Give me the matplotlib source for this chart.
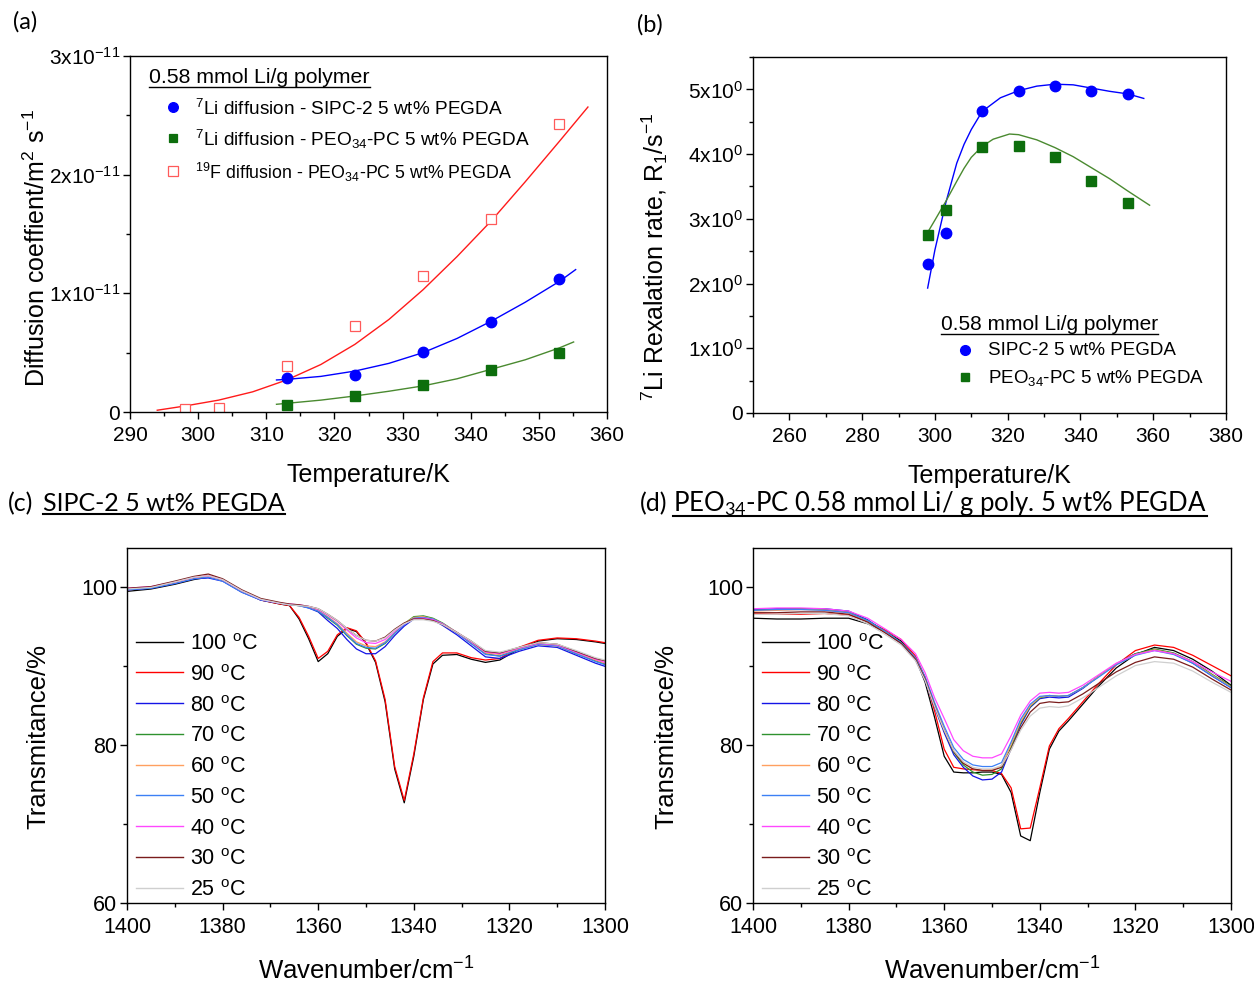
import numpy as np
import matplotlib
matplotlib.use('Agg')
import matplotlib.pyplot as plt
from matplotlib.lines import Line2D
from matplotlib.ticker import MultipleLocator, FixedLocator

W, H = 1254, 983

# ---------------- Panel (a): diffusion coefficients (units of 1e-11 m^2/s) ----------------
T_Li = [313, 323, 333, 343, 353]
D_Li_SIPC = [0.289, 0.312, 0.506, 0.758, 1.118]
D_Li_PEO = [0.059, 0.137, 0.228, 0.354, 0.495]
T_F = [298, 303, 313, 323, 333, 343, 353]
D_F_PEO = [0.025, 0.030, 0.385, 0.727, 1.149, 1.626, 2.430]

# fit curves
Tfit_F = [294, 298, 303, 308, 313, 318, 323, 328, 333, 338, 343, 348, 353, 357.2]
Dfit_F = [0.015, 0.05, 0.10, 0.17, 0.27, 0.40, 0.57, 0.78, 1.03, 1.31, 1.61, 1.94, 2.28, 2.57]
Tfit_SIPC = [311.5, 313, 318, 323, 328, 333, 338, 343, 348, 353, 355.4]
Dfit_SIPC = [0.27, 0.275, 0.30, 0.345, 0.41, 0.50, 0.62, 0.765, 0.925, 1.10, 1.20]
Tfit_PEO = [311.5, 318, 323, 328, 333, 338, 343, 348, 353, 355.1]
Dfit_PEO = [0.065, 0.10, 0.135, 0.175, 0.22, 0.28, 0.36, 0.44, 0.54, 0.59]

# ---------------- Panel (b): 7Li relaxation rate R1 ----------------
T_R = [298, 303, 313, 323, 333, 343, 353]
R1_SIPC = [2.30, 2.78, 4.66, 4.97, 5.05, 4.97, 4.93]
R1_PEO = [2.75, 3.14, 4.11, 4.12, 3.95, 3.59, 3.24]
Tfit_R_SIPC = [298, 300, 303, 306, 308, 310, 313, 318, 323, 328, 333, 338, 343, 348, 353, 357.4]
Rfit_SIPC = [1.93, 2.52, 3.25, 3.86, 4.15, 4.38, 4.66, 4.87, 4.98, 5.05, 5.08, 5.07, 5.02, 4.97, 4.93, 4.86]
Tfit_R_PEO = [298, 300, 303, 306, 308, 310, 313, 316, 320.5, 323, 328, 333, 338, 343, 348, 353, 359]
Rfit_PEO = [2.79, 2.98, 3.27, 3.58, 3.78, 3.95, 4.12, 4.23, 4.31, 4.30, 4.22, 4.10, 3.96, 3.79, 3.62, 3.43, 3.21]

# ---------------- Panel (c): IR, SIPC-2 5 wt% PEGDA ----------------
wn_c = [1400, 1395, 1390, 1386, 1383, 1380, 1376, 1372, 1368, 1366, 1364, 1362,
        1360, 1358, 1356, 1354, 1352, 1350, 1348, 1346, 1344, 1342, 1340, 1338,
        1336, 1334, 1331, 1328, 1325, 1322, 1318, 1314, 1310, 1306, 1302, 1300]
c_100 = [99.5, 99.8, 100.4, 101.0, 101.3, 100.9, 99.6, 98.4, 97.9, 97.7, 96.0, 93.5,
         90.6, 91.6, 93.8, 94.8, 94.4, 92.9, 90.5, 85.5, 77.0, 72.7, 78.6, 85.8,
         90.3, 91.4, 91.5, 90.9, 90.5, 90.8, 92.2, 93.2, 93.5, 93.4, 93.1, 92.9]
c_90 = [99.7, 100.0, 100.6, 101.2, 101.5, 101.0, 99.6, 98.4, 97.9, 97.7, 96.2, 93.8,
        91.0, 91.9, 94.0, 94.9, 94.5, 93.0, 90.7, 85.8, 77.3, 73.0, 78.9, 86.0,
        90.6, 91.7, 91.7, 91.1, 90.8, 91.0, 92.4, 93.3, 93.6, 93.5, 93.2, 93.0]
c_80 = [99.7, 99.9, 100.5, 101.1, 101.2, 100.8, 99.4, 98.4, 98.0, 97.8, 97.7, 97.4,
        96.9, 95.8, 94.8, 93.4, 92.2, 91.6, 91.6, 92.5, 93.9, 95.1, 96.0, 96.2,
        95.9, 95.2, 94.0, 92.6, 91.2, 91.0, 91.9, 92.6, 92.4, 91.4, 90.4, 90.0]
c_70 = [99.8, 100.0, 100.6, 101.2, 101.4, 100.9, 99.5, 98.5, 98.0, 97.8, 97.7, 97.5,
        97.0, 96.1, 95.2, 93.9, 92.8, 92.3, 92.2, 92.9, 94.2, 95.4, 96.3, 96.4,
        96.1, 95.5, 94.3, 92.9, 91.6, 91.3, 92.1, 92.8, 92.6, 91.6, 90.7, 90.3]
c_60 = [99.8, 100.0, 100.6, 101.2, 101.4, 100.9, 99.5, 98.5, 98.0, 97.8, 97.7, 97.5,
        97.1, 96.3, 95.4, 94.2, 93.1, 92.6, 92.5, 93.1, 94.3, 95.4, 96.2, 96.3,
        96.0, 95.4, 94.3, 93.0, 91.7, 91.5, 92.2, 92.8, 92.6, 91.7, 90.8, 90.4]
c_50 = [99.7, 99.9, 100.5, 101.1, 101.3, 100.8, 99.4, 98.4, 98.0, 97.8, 97.7, 97.4,
        97.0, 96.2, 95.3, 94.0, 92.9, 92.4, 92.3, 93.0, 94.2, 95.3, 96.1, 96.2,
        96.0, 95.4, 94.2, 92.9, 91.5, 91.3, 92.1, 92.8, 92.6, 91.6, 90.6, 90.2]
c_40 = [99.9, 100.1, 100.7, 101.3, 101.5, 101.0, 99.6, 98.5, 98.0, 97.9, 97.8, 97.6,
        97.2, 96.5, 95.7, 94.6, 93.6, 93.0, 92.9, 93.4, 94.5, 95.4, 96.0, 96.1,
        95.9, 95.4, 94.3, 93.1, 91.8, 91.6, 92.3, 92.9, 92.7, 91.8, 90.9, 90.5]
c_30 = [99.9, 100.1, 100.8, 101.4, 101.7, 101.1, 99.7, 98.6, 98.1, 97.9, 97.8, 97.6,
        97.3, 96.6, 95.8, 94.8, 93.9, 93.3, 93.2, 93.7, 94.7, 95.5, 96.0, 96.0,
        95.8, 95.3, 94.3, 93.2, 91.9, 91.7, 92.4, 93.0, 92.8, 91.9, 91.0, 90.7]
c_25 = [99.8, 100.0, 100.7, 101.3, 101.5, 101.0, 99.6, 98.5, 98.0, 97.8, 97.7, 97.6,
        97.3, 96.6, 95.8, 94.8, 93.9, 93.3, 93.2, 93.6, 94.6, 95.4, 95.9, 95.9,
        95.7, 95.3, 94.3, 93.2, 92.0, 91.8, 92.4, 93.0, 92.8, 92.0, 91.1, 90.8]

# ---------------- Panel (d): IR, PEO34-PC ----------------
wn_d = [1400, 1395, 1390, 1385, 1380, 1376, 1372, 1369, 1366, 1364,
        1362, 1360, 1358, 1356, 1354, 1352, 1350, 1348, 1346, 1344,
        1342, 1340, 1338, 1336, 1334, 1331, 1328, 1324, 1320, 1316,
        1312, 1308, 1304, 1300]
d_100 = [96.1, 96.0, 96.0, 96.1, 96.1, 95.4, 94.3, 93.2, 91.0, 88.0,
         83.5, 78.6, 76.6, 76.5, 76.5, 76.6, 76.6, 76.3, 74.0, 68.5,
         67.9, 74.0, 79.5, 81.8, 83.1, 85.2, 87.3, 89.8, 91.5, 92.4,
         92.0, 90.9, 89.4, 87.6]
d_90 = [96.7, 96.6, 96.6, 96.7, 96.5, 95.7, 94.5, 93.4, 91.3, 88.6,
        84.3, 79.5, 77.2, 77.0, 76.9, 76.8, 76.8, 76.4, 74.6, 69.4,
        69.5, 74.6, 79.9, 82.1, 83.4, 85.5, 87.6, 90.2, 92.0, 92.7,
        92.4, 91.4, 90.1, 88.8]
d_80 = [97.2, 97.3, 97.3, 97.3, 97.0, 95.9, 94.2, 92.9, 90.8, 88.3,
        84.8, 81.6, 78.8, 77.2, 76.1, 75.6, 75.7, 76.6, 79.6, 82.6,
        84.8, 85.9, 86.1, 86.0, 86.1, 87.2, 88.6, 90.3, 91.6, 92.1,
        91.6, 90.4, 88.8, 87.3]
d_70 = [97.1, 97.2, 97.3, 97.2, 96.9, 95.8, 94.3, 93.0, 91.0, 88.5,
        85.0, 81.9, 79.1, 77.5, 76.6, 76.2, 76.3, 77.0, 79.8, 82.8,
        84.9, 86.0, 86.3, 86.2, 86.3, 87.3, 88.6, 90.3, 91.6, 92.2,
        91.7, 90.6, 89.0, 87.5]
d_60 = [97.0, 97.1, 97.2, 97.1, 96.8, 95.7, 94.2, 92.9, 91.0, 88.5,
        85.1, 82.0, 79.3, 77.8, 77.0, 76.8, 76.9, 77.4, 80.1, 83.0,
        85.0, 86.1, 86.3, 86.2, 86.3, 87.3, 88.6, 90.3, 91.5, 92.1,
        91.6, 90.5, 88.9, 87.4]
d_50 = [97.1, 97.2, 97.2, 97.1, 96.8, 95.8, 94.3, 93.0, 91.1, 88.7,
        85.4, 82.4, 79.7, 78.2, 77.5, 77.3, 77.3, 77.8, 80.4, 83.3,
        85.2, 86.2, 86.3, 86.2, 86.3, 87.3, 88.5, 90.2, 91.4, 92.0,
        91.5, 90.4, 88.8, 87.3]
d_40 = [97.3, 97.4, 97.4, 97.3, 97.0, 96.1, 94.6, 93.4, 91.6, 89.2,
        86.0, 83.4, 80.7, 79.3, 78.6, 78.4, 78.4, 78.9, 81.2, 83.8,
        85.6, 86.6, 86.7, 86.6, 86.7, 87.6, 88.8, 90.4, 91.5, 92.0,
        91.6, 90.6, 89.3, 88.1]
d_30 = [96.8, 96.8, 96.9, 96.9, 96.6, 95.6, 94.1, 92.9, 90.9, 88.4,
        85.0, 81.9, 79.2, 77.7, 77.0, 76.8, 76.8, 77.2, 79.5, 82.2,
        84.2, 85.3, 85.5, 85.4, 85.5, 86.5, 87.7, 89.3, 90.5, 91.2,
        90.9, 89.9, 88.4, 87.0]
d_25 = [96.6, 96.6, 96.7, 96.7, 96.4, 95.4, 93.9, 92.7, 90.7, 88.2,
        84.9, 81.9, 79.3, 77.9, 77.2, 77.0, 77.0, 77.4, 79.4, 81.9,
        83.7, 84.7, 84.9, 84.8, 85.0, 86.0, 87.2, 88.8, 90.1, 90.6,
        90.4, 89.4, 88.0, 86.7]

temps = ['100', '90', '80', '70', '60', '50', '40', '30', '25']
spec_colors = ['#000000', '#ff0000', '#1414e6', '#2f922f', '#ffa060',
               '#3c80f5', '#ff48ff', '#7a1c1c', '#cfcfcf']
spectra_c = [c_100, c_90, c_80, c_70, c_60, c_50, c_40, c_30, c_25]
spectra_d = [d_100, d_90, d_80, d_70, d_60, d_50, d_40, d_30, d_25]

# ---------------- style ----------------
plt.rcParams['font.family'] = ['Liberation Sans', 'DejaVu Sans']
plt.rcParams['mathtext.fontset'] = 'custom'
plt.rcParams['mathtext.rm'] = 'Liberation Sans'
plt.rcParams['mathtext.it'] = 'Liberation Sans:italic'
plt.rcParams['mathtext.bf'] = 'Liberation Sans:bold'
plt.rcParams['mathtext.sf'] = 'Liberation Sans'

fig = plt.figure(figsize=(W / 100, H / 100), dpi=100)
fig.patch.set_facecolor('white')


def fx(x):
    return x / W


def fy(y):
    return 1 - y / H


def add_axes_px(l, t, r, b):
    return fig.add_axes([fx(l), fy(b), (r - l) / W, (b - t) / H])


def style(ax, lsize=15):
    for s in ax.spines.values():
        s.set_linewidth(1.0)
    ax.tick_params(which='both', direction='out', top=False, right=False, width=1.0)
    ax.tick_params(which='major', length=5, labelsize=lsize, pad=2)
    ax.tick_params(which='minor', length=3)
    ax.tick_params(axis='x', which='major', pad=5)


axa = add_axes_px(130, 56, 607, 412)
axb = add_axes_px(753, 57, 1226, 413)
axc = add_axes_px(127, 548, 605, 903)
axd = add_axes_px(753, 548, 1231, 903)

# ---------- (a) ----------
axa.plot(Tfit_F, Dfit_F, color='#ff1a1a', lw=1.0)
axa.plot(Tfit_SIPC, Dfit_SIPC, color='#0000ff', lw=1.0)
axa.plot(Tfit_PEO, Dfit_PEO, color='#4a8a30', lw=1.0)
axa.plot(T_F, D_F_PEO, ls='none', marker='s', ms=7, mfc='white', mec='#ff5a5a', mew=0.9)
axa.plot(T_Li, D_Li_SIPC, ls='none', marker='o', ms=7.5, color='#0000ff')
axa.plot(T_Li, D_Li_PEO, ls='none', marker='s', ms=6.5, color='#0d6e0d')
axa.set_xlim(290, 360)
axa.set_ylim(0, 3)
axa.xaxis.set_major_locator(MultipleLocator(10))
axa.xaxis.set_minor_locator(MultipleLocator(5))
axa.yaxis.set_major_locator(FixedLocator([0, 1, 2, 3]))
axa.yaxis.set_minor_locator(MultipleLocator(0.5))
axa.set_yticklabels(['0', r'1x10$^{\mathregular{-11}}$', r'2x10$^{\mathregular{-11}}$',
                     r'3x10$^{\mathregular{-11}}$'])
style(axa)
axa.set_xlabel('Temperature/K', fontsize=18, labelpad=13)
axa.set_ylabel(r'Diffusion coeffient/m$^{\mathregular{2}}$ s$^{\mathregular{-1}}$', fontsize=18)
axa.yaxis.set_label_coords(-0.168, 0.46)

# ---------- (b) ----------
axb.plot(Tfit_R_SIPC, Rfit_SIPC, color='#0000ff', lw=1.0)
axb.plot(Tfit_R_PEO, Rfit_PEO, color='#4a8a30', lw=1.0)
axb.plot(T_R, R1_SIPC, ls='none', marker='o', ms=7.5, color='#0000ff')
axb.plot(T_R, R1_PEO, ls='none', marker='s', ms=6.5, color='#0d6e0d')
axb.set_xlim(250, 380)
axb.set_ylim(0, 5.5)
axb.xaxis.set_major_locator(FixedLocator([260, 280, 300, 320, 340, 360, 380]))
axb.xaxis.set_minor_locator(MultipleLocator(10))
axb.yaxis.set_major_locator(FixedLocator([0, 1, 2, 3, 4, 5]))
axb.yaxis.set_minor_locator(MultipleLocator(0.5))
axb.set_yticklabels(['0'] + [r'%dx10$^{\mathregular{0}}$' % i for i in range(1, 6)])
style(axb)
axb.set_xlabel('Temperature/K', fontsize=18, labelpad=13)
axb.set_ylabel(r'$^{\mathregular{7}}$Li Rexalation rate, R$_{\mathregular{1}}$/s$^{\mathregular{-1}}$',
               fontsize=18)
axb.yaxis.set_label_coords(-0.175, 0.44)

# ---------- (c), (d) ----------
for ax, wn, specs in [(axc, wn_c, spectra_c), (axd, wn_d, spectra_d)]:
    for y, col in zip(specs, spec_colors):
        ax.plot(wn, y, color=col, lw=0.9)
    ax.set_xlim(1400, 1300)
    ax.set_ylim(60, 105)
    ax.xaxis.set_major_locator(MultipleLocator(20))
    ax.xaxis.set_minor_locator(MultipleLocator(10))
    ax.yaxis.set_major_locator(FixedLocator([60, 80, 100]))
    ax.yaxis.set_minor_locator(FixedLocator([70, 90]))
    style(ax, lsize=15.5)
    ax.set_xlabel(r'Wavenumber/cm$^{\mathregular{-1}}$', fontsize=18.5, labelpad=14)
    ax.set_ylabel('Transmitance/%', fontsize=18.5)
axc.yaxis.set_label_coords(-0.161, 0.47)
axd.yaxis.set_label_coords(-0.157, 0.47)

# spectra legends (manual, pixel placed)
for lx0, lx1, tx in [(136, 183, 190), (762, 809, 816)]:
    for i, (t, col) in enumerate(zip(temps, spec_colors)):
        yy = 641.7 + 30.75 * i
        fig.add_artist(Line2D([fx(lx0), fx(lx1)], [fy(yy), fy(yy)], color=col,
                              lw=1.0, transform=fig.transFigure))
        fig.text(fx(tx), fy(yy + 3), t + r' $^{\mathregular{o}}$C', fontsize=15.5,
                 va='center', ha='left')

# ---------- legends for (a) and (b) ----------
renderer = fig.canvas.get_renderer()


def underlined(x, ybase, s, size, family=None, off=3.5, lw=1.0):
    kw = {}
    if family is not None:
        kw['family'] = family
    t = fig.text(fx(x), fy(ybase), s, fontsize=size, va='baseline', ha='left', **kw)
    bb = t.get_window_extent(renderer=renderer)
    yl = H - (ybase + off)
    fig.add_artist(Line2D([bb.x0 / W, bb.x1 / W], [yl / H, yl / H], color='black',
                          lw=lw, transform=fig.transFigure))
    return t


underlined(149, 83, '0.58 mmol Li/g polymer', 15.3)
leg_a = [('o', '#0000ff', '#0000ff', 7, r'$^{\mathregular{7}}$Li diffusion - SIPC-2 5 wt% PEGDA', 13.7),
         ('s', '#0d6e0d', '#0d6e0d', 6.2, r'$^{\mathregular{7}}$Li diffusion - PEO$_{\mathregular{34}}$-PC 5 wt% PEGDA', 13.7),
         ('s', 'white', '#ff5a5a', 6.5, r'$^{\mathregular{19}}$F diffusion - PEO$_{\mathregular{34}}$-PC 5 wt% PEGDA', 12.8)]
for i, (m, fc, ec, ms, lab, fs) in enumerate(leg_a):
    yy = [107, 138, 171][i]
    fig.add_artist(Line2D([fx(173)], [fy(yy)], marker=m, ms=ms, mfc=fc, mec=ec,
                          mew=0.9, ls='none', transform=fig.transFigure))
    fig.text(fx(195), fy(yy + 1.5), lab, fontsize=fs, va='center', ha='left')

underlined(941, 330, '0.58 mmol Li/g polymer', 15.0)
leg_b = [('o', '#0000ff', 7, 'SIPC-2 5 wt% PEGDA'),
         ('s', '#0d6e0d', 6.2, r'PEO$_{\mathregular{34}}$-PC 5 wt% PEGDA')]
for i, (m, c, ms, lab) in enumerate(leg_b):
    yy = [350, 377][i]
    fig.add_artist(Line2D([fx(965)], [fy(yy)], marker=m, ms=ms, color=c, ls='none',
                          transform=fig.transFigure))
    fig.text(fx(988), fy(yy + 1), lab, fontsize=13.5, va='center', ha='left')

# ---------- panel labels / titles ----------
tfam = ['Lato', 'DejaVu Sans']
fig.text(fx(13), fy(22), '(a)', fontsize=17, family=tfam, va='center', ha='left')
fig.text(fx(637), fy(25), '(b)', fontsize=17, family=tfam, va='center', ha='left')
fig.text(fx(8), fy(511), '(c)', fontsize=18, family=tfam, va='baseline', ha='left')
underlined(43, 511, 'SIPC-2 5 wt% PEGDA', 18, family=tfam, off=3, lw=1.5)
fig.text(fx(640), fy(511), '(d)', fontsize=18, family=tfam, va='baseline', ha='left')
underlined(673, 511, r'PEO$_{\mathregular{34}}$-PC 0.58 mmol Li/ g poly. 5 wt% PEGDA', 18.5,
           family=tfam, off=5, lw=1.5)

fig.savefig('out.png', dpi=100)
